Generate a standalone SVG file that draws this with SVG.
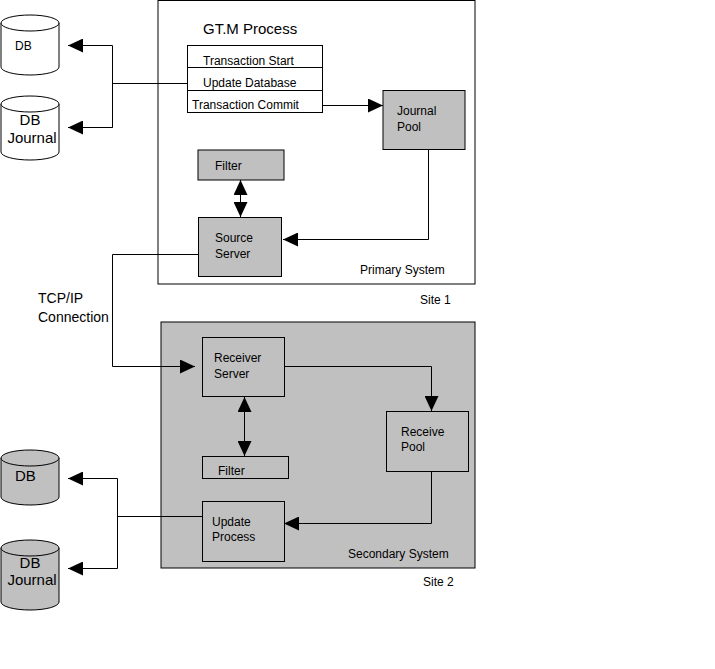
<svg xmlns="http://www.w3.org/2000/svg" width="715" height="669" viewBox="0 0 715 669">
<defs>
<marker id="ah" markerWidth="15" markerHeight="14" refX="15" refY="7" orient="auto-start-reverse" markerUnits="userSpaceOnUse"><path d="M0,0 L15,7 L0,14 Z" fill="#000"/></marker>
<style>
text{font-family:"Liberation Sans",Arial,sans-serif;fill:#000}
.s{font-size:12px}.m{font-size:15px}
.box{stroke:#000;stroke-width:1}
.g{fill:#c0c0c0}.w{fill:#fff}
.c{fill:none;stroke:#000;stroke-width:1}
</style>
</defs>
<rect width="715" height="669" fill="#fff"/>
<g id="primary"><rect x="158" y="0.5" width="317" height="283.5" class="box w"/><text x="360" y="274" class="s">Primary System</text></g>
<g id="secondary"><rect x="161" y="322" width="314" height="246" class="box g"/><text x="348" y="558" class="s">Secondary System</text></g>
<text x="420" y="304" class="s">Site 1</text>
<text x="423" y="586" class="s">Site 2</text>
<text x="38" y="303" class="m" style="font-size:14px">TCP/IP</text>
<text x="38" y="322" class="m" style="font-size:14px">Connection</text>
<g id="gtm"><text x="203" y="34" class="m">GT.M Process</text>
<rect x="187.5" y="45.5" width="135" height="67" class="box w"/>
<line x1="187" y1="67.5" x2="322" y2="67.5" stroke="#000"/><line x1="187" y1="90.5" x2="322" y2="90.5" stroke="#000"/>
<text x="203" y="65" class="s">Transaction Start</text><text x="203" y="87" class="s">Update Database</text><text x="192" y="109" class="s">Transaction Commit</text></g>
<g id="db1"><path d="M1,23 V67 A29,8 0 0 0 59,67 V23" class="box w"/><ellipse cx="30" cy="23" rx="29" ry="8" class="box w"/><text x="15" y="50" class="s">DB</text></g>
<g id="dbj1"><path d="M1,104 V152 A29,8 0 0 0 59,152 V104" class="box w"/><ellipse cx="30" cy="104" rx="29" ry="8" class="box w"/><text x="30" y="125" class="m" text-anchor="middle">DB</text><text x="32" y="143" class="m" text-anchor="middle">Journal</text></g>
<g id="journalpool"><rect x="383" y="90.5" width="82" height="59" class="box g"/><text x="397" y="115" class="s">Journal</text><text x="397" y="131" class="s">Pool</text></g>
<g id="filter1"><rect x="198" y="150" width="86" height="30" class="box g"/><text x="215" y="170" class="s">Filter</text></g>
<g id="source"><rect x="198.5" y="217.5" width="83" height="59" class="box g"/><text x="215" y="242" class="s">Source</text><text x="215" y="258" class="s">Server</text></g>
<g id="receiver"><rect x="202.5" y="337.5" width="82" height="59" class="box g"/><text x="214" y="362" class="s">Receiver</text><text x="214" y="378" class="s">Server</text></g>
<g id="receivepool"><rect x="386.5" y="411.5" width="82" height="60" class="box g"/><text x="401" y="436" class="s">Receive</text><text x="401" y="451" class="s">Pool</text></g>
<g id="filter2"><rect x="202.5" y="456.5" width="86" height="22" class="box g"/><text x="218" y="475" class="s">Filter</text></g>
<g id="update"><rect x="202.5" y="501.5" width="82" height="60" class="box g"/><text x="212" y="526" class="s">Update</text><text x="212" y="541" class="s">Process</text></g>
<g id="db2"><path d="M1,458 V497 A29,8 0 0 0 59,497 V458" class="box g"/><ellipse cx="30" cy="458" rx="29" ry="8" class="box g"/><text x="15" y="481" class="m">DB</text></g>
<g id="dbj2"><path d="M1,548 V602 A29,8 0 0 0 59,602 V548" class="box g"/><ellipse cx="30" cy="548" rx="29" ry="8" class="box g"/><text x="30" y="568" class="m" text-anchor="middle">DB</text><text x="32" y="585" class="m" text-anchor="middle">Journal</text></g>
<g id="connectors">
<path d="M187,83.5 H112.5" class="c"/>
<path d="M112.5,127.5 V45.5 H68" class="c" marker-end="url(#ah)"/>
<path d="M112.5,83 V127.5 H68" class="c" marker-end="url(#ah)"/>
<path d="M322,105.5 H383" class="c" marker-end="url(#ah)"/>
<path d="M240.5,180 V217" class="c" marker-start="url(#ah)" marker-end="url(#ah)"/>
<path d="M428.5,150 V239.5 H283" class="c" marker-end="url(#ah)"/>
<path d="M198,254.5 H112.5 V366.5 H195" class="c" marker-end="url(#ah)"/>
<path d="M284,366.5 H431.5 V411" class="c" marker-end="url(#ah)"/>
<path d="M244.5,397 V456" class="c" marker-start="url(#ah)" marker-end="url(#ah)"/>
<path d="M431.5,471 V523.5 H284" class="c" marker-end="url(#ah)"/>
<path d="M202,516.5 H117.5"  class="c"/>
<path d="M117.5,516 V478.5 H68" class="c" marker-end="url(#ah)"/>
<path d="M117.5,516 V568.5 H68" class="c" marker-end="url(#ah)"/>
</g>
</svg>
